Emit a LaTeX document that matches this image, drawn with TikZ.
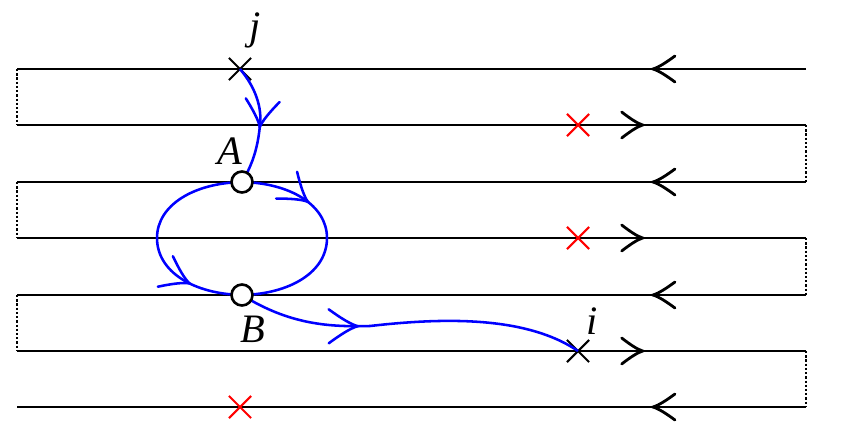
\documentclass[tikz,border=0pt]{standalone}
\usepackage{fontspec}
\setmainfont{Liberation Serif}
\usetikzlibrary{decorations.markings, shapes.misc}

\begin{document}
\begin{tikzpicture}[
		x=0.02cm, y=-0.02cm,
		wire/.style={
			line width=1.6pt,
			black
		},
		link/.style={
			line width=0.9pt,
			dash pattern=on 1.3pt off 1.1pt
		},
		flow/.style={
			line width=1.45pt,
			blue
		},
		% open curved chevron: position, length, half width
		tipat/.style n args={3}{
			postaction={decorate},
			decoration={markings,
				mark=at position #1 with {
					\draw[solid, line cap=round]
						(-#2,#3) .. controls ({-0.6*#2},{0.5*#3}) and ({-0.25*#2},{0.12*#3}) .. (0,0)
						.. controls ({-0.25*#2},{-0.12*#3}) and ({-0.6*#2},{-0.5*#3}) .. (-#2,-#3);}}
		},
		vertex/.style={
			circle,
			draw=black,
			fill=white,
			line width=1.5pt,
			minimum size=0.42cm,
			inner sep=0pt
		},
		xmark/.style={
			cross out,
			draw,
			line width=1.2pt,
			minimum size=0.4cm,
			inner sep=0pt
		},
		tag/.style={
			font=\fontsize{23}{26}\selectfont\itshape
		}
	]
	
	\useasboundingbox (0,0) rectangle (847,429);
	
	% the strip lines
	\foreach \y in {69,182,295,407}
		\draw[wire, tipat={0.194}{22}{13}] (806,\y) -- (17,\y);
	\foreach \y in {125,238,351}
		\draw[wire, tipat={0.793}{21}{13}] (17,\y) -- (806,\y);
	
	% dotted joins at the ends
	\foreach \y/\z in {69/125,182/238,295/351}
		\draw[link] (17,\y) -- (17,\z);
	\foreach \y/\z in {125/182,238/295,351/407}
		\draw[link] (806,\y) -- (806,\z);
	
	% marked points
	\node[xmark] (j) at (240,69) {};
	\node[xmark] (i) at (578,351) {};
	\node[xmark, draw=red] (r1) at (578,125) {};
	\node[xmark, draw=red] (r2) at (578,238) {};
	\node[xmark, draw=red] (r3) at (240,407) {};
	
	\coordinate (A) at (242,182);
	\coordinate (B) at (242,295);
	
	% blue paths
	\draw[flow, tipat={0.52}{27}{17}] (j.center) .. controls (256,88) and (262,108) .. (260,125)
		.. controls (258,145) and (254,162) .. (A);
	\draw[flow, tipat={0.31}{27}{17}] (A) .. controls (290,183) and (327,205) .. (327,238)
		.. controls (327,272) and (290,294) .. (B);
	\draw[flow, tipat={0.76}{27}{17}] (A) .. controls (194,183) and (157,205) .. (157,238)
		.. controls (157,272) and (194,294) .. (B);
	\draw[flow, tipat={0.35}{29}{17}] (B) .. controls (290,325) and (330,327) .. (370,326)
		.. controls (440,318) and (525,315) .. (i.center);
	
	\node[vertex] (va) at (A) {};
	\node[vertex] (vb) at (B) {};
	
	% labels
	\node[tag] at (255,30) {j};
	\node[tag] at (230,151) {A};
	\node[tag] at (253,329) {B};
	\node[tag] at (592,321) {i};
	
\end{tikzpicture}
\end{document}
